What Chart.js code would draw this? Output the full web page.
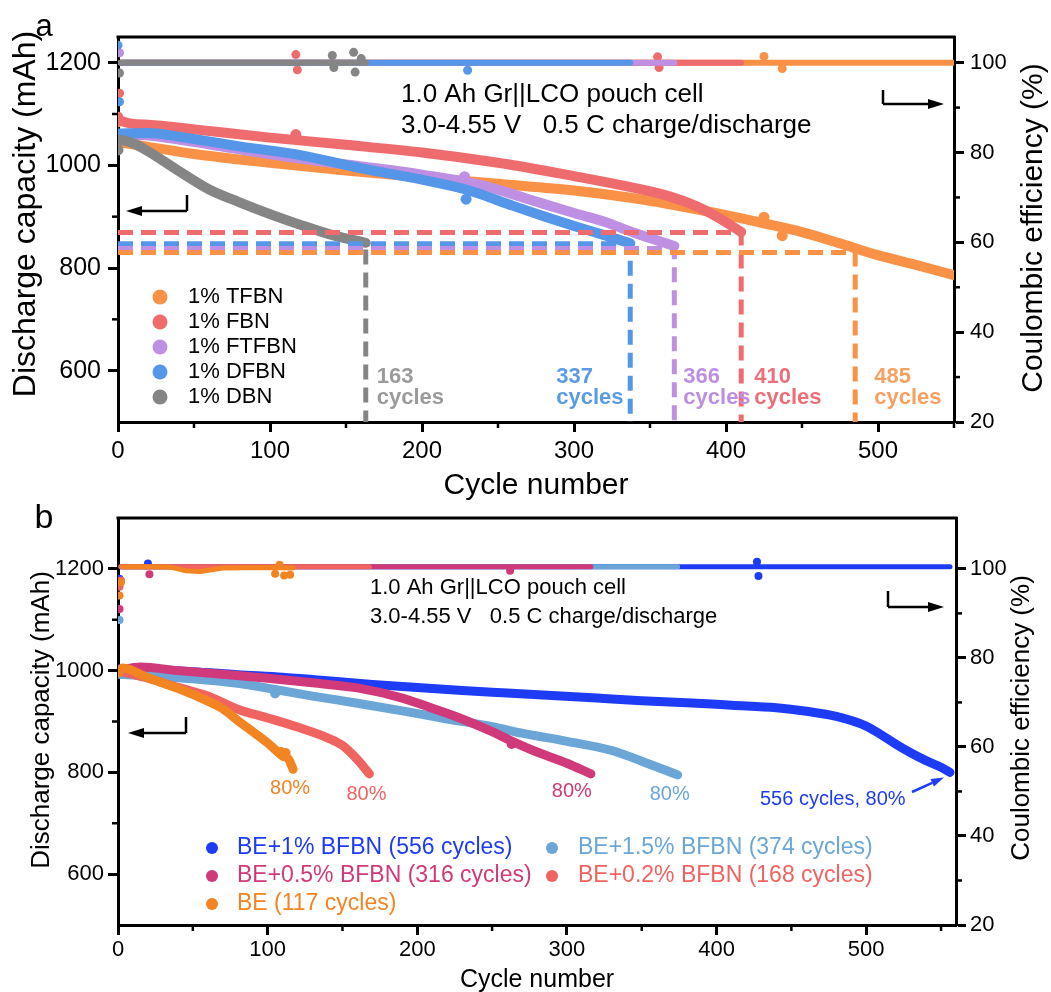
<!DOCTYPE html>
<html>
<head>
<meta charset="utf-8">
<script src="https://cdn.jsdelivr.net/npm/chart.js@4.4.0/dist/chart.umd.min.js"></script>
<style>
  html, body { margin: 0; padding: 0; background: #fff; }
  #wrap { position: relative; width: 1051px; height: 992px; overflow: hidden; }
  canvas { position: absolute; left: 0; }
  #chartA { top: 0; }
  #chartB { top: 500px; }
</style>
</head>
<body>
<div id="wrap">
  <canvas id="chartA" width="1051" height="500"></canvas>
  <canvas id="chartB" width="1051" height="492"></canvas>
</div>
<script>
// ---------- panel a data (1% additives) ----------
const aNames = ['1% TFBN', '1% FBN', '1% FTFBN', '1% DFBN', '1% DBN'];

// discharge capacity (mAh), main trend
const tfbnCycles  = [1, 20, 50, 100, 150, 200, 250, 300, 350, 400, 425, 450, 475, 500, 525, 550];
const tfbnCap     = [1045, 1036, 1022, 1005, 990, 977, 964, 951, 931, 903, 887, 870, 848, 825, 806, 786];
const fbnCycles   = [0, 1, 20, 50, 100, 150, 200, 250, 280, 300, 330, 360, 380, 395, 410];
const fbnCap      = [1095, 1088, 1079, 1070, 1054, 1040, 1025, 1005, 990, 979, 962, 942, 921, 898, 870];
const ftfbnCycles = [0, 20, 40, 80, 120, 160, 200, 240, 270, 300, 320, 340, 366];
const ftfbnCap    = [1060, 1058, 1050, 1031, 1013, 998, 982, 961, 934, 907, 890, 868, 843];
const dfbnCycles  = [0, 20, 40, 80, 120, 160, 200, 230, 260, 280, 300, 320, 337];
const dfbnCap     = [1062, 1063, 1056, 1037, 1020, 994, 972, 952, 921, 901, 882, 864, 848];
const dbnCycles   = [1, 10, 20, 40, 60, 80, 100, 120, 140, 163];
const dbnCap      = [1050, 1043, 1027, 989, 953, 928, 905, 884, 865, 849];

// discharge capacity, stray points off the trend
const tfbnCapOutCycles  = [0, 425, 437];
const tfbnCapOut        = [1085, 899, 863];
const fbnCapOutCycles   = [117];
const fbnCapOut         = [1060];
const ftfbnCapOutCycles = [228];
const ftfbnCapOut       = [978];
const dfbnCapOutCycles  = [229];
const dfbnCapOut        = [934];
const dbnCapOutCycles   = [0];
const dbnCapOut         = [1030];

// coulombic efficiency (%), main trend
const tfbnCeCycles  = [2, 550];
const tfbnCe        = [100, 100];
const fbnCeCycles   = [2, 410];
const fbnCe         = [100, 100];
const ftfbnCeCycles = [2, 366];
const ftfbnCe       = [100, 100];
const dfbnCeCycles  = [2, 337];
const dfbnCe        = [100, 100];
const dbnCeCycles   = [2, 163];
const dbnCe         = [100, 100];

// coulombic efficiency, stray points
const tfbnCeOutCycles  = [425, 437];
const tfbnCeOut        = [101.4, 98.7];
const fbnCeOutCycles   = [1, 117, 118, 355, 356];
const fbnCeOut         = [93.2, 101.8, 98.4, 101.3, 98.9];
const ftfbnCeOutCycles = [1];
const ftfbnCeOut       = [102.2];
const dfbnCeOutCycles  = [0, 1, 230];
const dfbnCeOut        = [103.9, 91.3, 98.3];
const dbnCeOutCycles   = [1, 141, 142, 155, 156, 160];
const dbnCeOut         = [97.7, 101.6, 98.9, 102.3, 97.9, 100.9];

// 80 % retention cut-offs (cycle, capacity) in order TFBN, FBN, FTFBN, DFBN, DBN
const cutCycles = [485, 410, 366, 337, 163];
const cutCaps   = [830, 869, 838, 847, 836];

// axis ticks
const aXTicks = [0, 100, 200, 300, 400, 500];
const aXMinor = [50, 150, 250, 350, 450, 550];
const capTicks = [600, 800, 1000, 1200];
const capMinor = [700, 900, 1100];
const ceTicks = [20, 40, 60, 80, 100];
const ceMinor = [30, 50, 70, 90];

// ---------- panel b data (BFBN contents) ----------
const bNames = ['BE+1% BFBN (556 cycles)', 'BE+1.5% BFBN (374 cycles)', 'BE+0.5% BFBN (316 cycles)',
                'BE+0.2% BFBN (168 cycles)', 'BE (117 cycles)'];

const be1Cycles  = [0, 20, 50, 80, 110, 140, 170, 200, 230, 260, 290, 320, 350, 380, 410, 440, 460, 480, 500, 510, 520, 530, 540, 550, 556];
const be1Cap     = [1003, 1002, 998, 992, 987, 980, 973, 967, 961, 956, 951, 946, 941, 937, 932, 927, 920, 910, 891, 874, 855, 838, 823, 810, 800];
const be15Cycles = [0, 20, 50, 80, 105, 130, 160, 190, 220, 250, 270, 300, 330, 350, 374];
const be15Cap    = [993, 990, 984, 975, 963, 950, 936, 921, 905, 890, 877, 861, 843, 822, 795];
const be05Cycles = [0, 15, 40, 70, 100, 130, 160, 190, 210, 230, 250, 262, 280, 300, 316];
const be05Cap    = [1000, 1007, 1000, 993, 985, 976, 966, 946, 926, 905, 880, 863, 840, 818, 797];
const be02Cycles = [0, 20, 40, 60, 80, 100, 120, 140, 150, 160, 168];
const be02Cap    = [1000, 985, 967, 950, 924, 907, 889, 868, 853, 825, 797];
const beCycles   = [0, 3, 20, 40, 60, 70, 80, 90, 100, 110, 114, 117];
const beCap      = [995, 1005, 986, 965, 940, 925, 902, 880, 858, 832, 826, 806];

const be1CapOutCycles  = [];
const be1CapOut        = [];
const be15CapOutCycles = [105];
const be15CapOut       = [955];
const be05CapOutCycles = [263];
const be05CapOut       = [856];
const be02CapOutCycles = [];
const be02CapOut       = [];
const beCapOutCycles   = [109, 112];
const beCapOut         = [840, 838];

const be1CeCycles  = [2, 556];
const be1Ce        = [100.5, 100.5];
const be15CeCycles = [2, 374];
const be15Ce       = [100.5, 100.5];
const be05CeCycles = [2, 316];
const be05Ce       = [100.5, 100.5];
const be02CeCycles = [2, 168];
const be02Ce       = [100.5, 100.5];
const beCeCycles   = [3, 35, 45, 55, 70, 100, 117];
const beCe         = [100.5, 100.4, 99.6, 99.4, 100.2, 100.3, 100.2];

const be1CeOutCycles  = [1, 20, 427, 428];
const be1CeOut        = [97.8, 101.2, 101.6, 98.4];
const be15CeOutCycles = [1];
const be15CeOut       = [88.5];
const be05CeOutCycles = [1, 21, 262];
const be05CeOut       = [91, 98.8, 99.6];
const be02CeOutCycles = [1, 2];
const be02CeOut       = [96, 97.4];
const beCeOutCycles   = [1, 2, 105, 108, 111, 115];
const beCeOut         = [94, 97, 98.9, 100.9, 98.5, 98.7];

const bXTicks = [0, 100, 200, 300, 400, 500];
const bXMinor = [50, 150, 250, 350, 450, 550];

// ---------- styles ----------
const FONT = '"Liberation Sans", Arial, Helvetica, sans-serif';
const aColors = ['#F99247', '#EE6C6E', '#BF8FE3', '#5596E8', '#858585'];
const aLabelColors = ['#F6A062', '#EB7078', '#BE8FE0', '#5C9BE3', '#9B9B9B'];
const bColors = ['#1E3CF5', '#6BA6D6', '#D0397A', '#EF6461', '#F28422'];

Chart.defaults.font.family = FONT;
Chart.defaults.color = '#000';

const pts = (xs, ys) => xs.map((x, i) => ({ x: x, y: ys[i] }));

function txt(ctx, s, x, y, size, color, align, bold, rot) {
  ctx.save();
  ctx.font = (bold ? 'bold ' : '') + size + 'px ' + FONT;
  ctx.fillStyle = color || '#000';
  ctx.textAlign = align || 'left';
  ctx.textBaseline = 'middle';
  ctx.translate(x, y);
  if (rot) ctx.rotate(rot);
  ctx.fillText(s, 0, 0);
  ctx.restore();
}

function arrowTo(ctx, x1, y1, x2, y2, color, lw, head) {
  const ang = Math.atan2(y2 - y1, x2 - x1);
  const bx = x2 - head * Math.cos(ang), by = y2 - head * Math.sin(ang);
  const w = head * 0.32;
  ctx.strokeStyle = color; ctx.fillStyle = color; ctx.lineWidth = lw;
  ctx.beginPath(); ctx.moveTo(x1, y1); ctx.lineTo(bx, by); ctx.stroke();
  ctx.beginPath();
  ctx.moveTo(x2, y2);
  ctx.lineTo(bx + w * Math.sin(ang), by - w * Math.cos(ang));
  ctx.lineTo(bx - w * Math.sin(ang), by + w * Math.cos(ang));
  ctx.closePath(); ctx.fill();
}

// L-shaped axis pointer
function pointer(ctx, xv, yTop, yBot, xTip) {
  ctx.strokeStyle = '#000'; ctx.lineWidth = 2.5;
  ctx.beginPath(); ctx.moveTo(xv, yTop); ctx.lineTo(xv, yBot); ctx.stroke();
  arrowTo(ctx, xv, yBot, xTip, yBot, '#000', 2.5, 16);
}

function minorTicks(ctx, scale, values, side) {
  ctx.strokeStyle = '#000'; ctx.lineWidth = 2.5;
  values.forEach(v => {
    const p = scale.getPixelForValue(v);
    ctx.beginPath();
    if (side === 'bottom') { ctx.moveTo(p, scale.top); ctx.lineTo(p, scale.top + 6); }
    if (side === 'left') { ctx.moveTo(scale.right, p); ctx.lineTo(scale.right - 6, p); }
    if (side === 'right') { ctx.moveTo(scale.left, p); ctx.lineTo(scale.left + 6, p); }
    ctx.stroke();
  });
}

function topFrame(ctx, a) {
  ctx.strokeStyle = '#000'; ctx.lineWidth = 3;
  ctx.beginPath(); ctx.moveTo(a.left - 1.5, a.top); ctx.lineTo(a.right + 1.5, a.top); ctx.stroke();
}

function axisOpts(min, max, majors, fontSize, pad, fitFn, pos) {
  return {
    type: 'linear', position: pos, min: min, max: max, afterFit: fitFn,
    afterBuildTicks: s => { s.ticks = majors.map(v => ({ value: v })); },
    ticks: { font: { size: fontSize }, color: '#000', padding: pad, maxRotation: 0, autoSkip: false,
             callback: v => String(v) },
    grid: { drawOnChartArea: false, tickLength: 10, tickWidth: 3, tickColor: '#000' },
    border: { color: '#000', width: 3 }
  };
}

// one series = trend line + stray points
function addSeries(sets, line, strays, color, width, axis, order, radius, smooth) {
  sets.push({
    data: line, yAxisID: axis, borderColor: color, borderWidth: width, pointRadius: 0,
    cubicInterpolationMode: smooth ? 'monotone' : 'default', tension: 0,
    borderCapStyle: 'round', borderJoinStyle: 'round', order: order
  });
  if (strays.length) sets.push({
    data: strays, yAxisID: axis, showLine: false, pointRadius: radius, pointBorderWidth: 0,
    pointBackgroundColor: color, pointBorderColor: color, order: order
  });
}

// ---------- panel a ----------
const aCapLines = [pts(tfbnCycles, tfbnCap), pts(fbnCycles, fbnCap), pts(ftfbnCycles, ftfbnCap), pts(dfbnCycles, dfbnCap), pts(dbnCycles, dbnCap)];
const aCapStrays = [pts(tfbnCapOutCycles, tfbnCapOut), pts(fbnCapOutCycles, fbnCapOut), pts(ftfbnCapOutCycles, ftfbnCapOut),
                    pts(dfbnCapOutCycles, dfbnCapOut), pts(dbnCapOutCycles, dbnCapOut)];
const aCeLines = [pts(tfbnCeCycles, tfbnCe), pts(fbnCeCycles, fbnCe), pts(ftfbnCeCycles, ftfbnCe), pts(dfbnCeCycles, dfbnCe), pts(dbnCeCycles, dbnCe)];
const aCeStrays = [pts(tfbnCeOutCycles, tfbnCeOut), pts(fbnCeOutCycles, fbnCeOut), pts(ftfbnCeOutCycles, ftfbnCeOut),
                   pts(dfbnCeOutCycles, dfbnCeOut), pts(dbnCeOutCycles, dbnCeOut)];
const aYMin = 500;

const aSets = [];
aCapLines.forEach((d, i) => addSeries(aSets, d, aCapStrays[i], aColors[i], 10, 'y', 10 - i, 5.5, true));
aCeLines.forEach((d, i) => addSeries(aSets, d, aCeStrays[i], aColors[i], 6, 'y2', 20 - i, 4.5, false));
cutCycles.forEach((c, i) => {
  const d = c === 163 ? [] : [{ x: 0, y: cutCaps[i] }];
  d.push({ x: c, y: cutCaps[i] }, { x: c, y: aYMin });
  aSets.push({
    data: d, yAxisID: 'y', borderColor: aColors[i], borderWidth: 5,
    borderDash: [15, 8], pointRadius: 0, tension: 0, order: 0
  });
});

const decorA = {
  id: 'decorA',
  afterDraw(chart) {
    const ctx = chart.ctx, a = chart.chartArea;
    const sx = chart.scales.x, sy = chart.scales.y, s2 = chart.scales.y2;
    ctx.save();
    topFrame(ctx, a);
    minorTicks(ctx, sx, aXMinor, 'bottom');
    minorTicks(ctx, sy, capMinor, 'left');
    minorTicks(ctx, s2, ceMinor, 'right');

    txt(ctx, 'a', 44, 27, 31, '#000', 'center');
    txt(ctx, 'Cycle number', (a.left + a.right) / 2, 486, 30, '#000', 'center');
    txt(ctx, 'Discharge capacity (mAh)', 26, 214, 32, '#000', 'center', false, -Math.PI / 2);
    txt(ctx, 'Coulombic efficiency (%)', 1034, 228, 30, '#000', 'center', false, -Math.PI / 2);

    txt(ctx, '1.0 Ah Gr||LCO pouch cell', 401, 95, 26, '#000', 'left');
    txt(ctx, '3.0-4.55 V   0.5 C charge/discharge', 401, 126, 26, '#000', 'left');

    pointer(ctx, 187, 195, 211, 126);
    pointer(ctx, 883, 90, 104, 944);

    // legend
    aNames.forEach((n, i) => {
      const y = 297 + 25 * i;
      ctx.fillStyle = aColors[i];
      ctx.beginPath(); ctx.arc(160, y, 7.5, 0, Math.PI * 2); ctx.fill();
      txt(ctx, n, 188, y, 22, '#000', 'left');
    });

    // cycle-life labels next to the dashed drops
    const dx = [19, 13, 9, -74, 11];
    cutCycles.forEach((c, i) => {
      const x = sx.getPixelForValue(c) + dx[i];
      txt(ctx, String(c), x, 377, 22, aLabelColors[i], 'left', true);
      txt(ctx, 'cycles', x, 398, 22, aLabelColors[i], 'left', true);
    });
    ctx.restore();
  }
};

new Chart(document.getElementById('chartA'), {
  type: 'line',
  data: { datasets: aSets },
  options: {
    responsive: false, animation: false, devicePixelRatio: 1, events: [],
    layout: { padding: { top: 37, left: 0, right: 0, bottom: 0 } },
    plugins: { legend: { display: false }, tooltip: { enabled: false } },
    scales: {
      x: axisOpts(0, 550, aXTicks, 24, 5, s => { s.height = 78; }, 'bottom'),
      y: axisOpts(aYMin, 1250, capTicks, 25, 7, s => { s.width = 118; }, 'left'),
      y2: axisOpts(20, 20 + 80 * 750 / 700, ceTicks, 22, 6, s => { s.width = 97; }, 'right')
    }
  },
  plugins: [decorA]
});

// ---------- panel b ----------
const bCapLines = [pts(be1Cycles, be1Cap), pts(be15Cycles, be15Cap), pts(be05Cycles, be05Cap), pts(be02Cycles, be02Cap), pts(beCycles, beCap)];
const bCapStrays = [pts(be1CapOutCycles, be1CapOut), pts(be15CapOutCycles, be15CapOut), pts(be05CapOutCycles, be05CapOut),
                    pts(be02CapOutCycles, be02CapOut), pts(beCapOutCycles, beCapOut)];
const bCeLines = [pts(be1CeCycles, be1Ce), pts(be15CeCycles, be15Ce), pts(be05CeCycles, be05Ce), pts(be02CeCycles, be02Ce), pts(beCeCycles, beCe)];
const bCeStrays = [pts(be1CeOutCycles, be1CeOut), pts(be15CeOutCycles, be15CeOut), pts(be05CeOutCycles, be05CeOut),
                   pts(be02CeOutCycles, be02CeOut), pts(beCeOutCycles, beCeOut)];

const bSets = [];
bCapLines.forEach((d, i) => addSeries(bSets, d, bCapStrays[i], bColors[i], 9, 'y', 10 + (4 - i), 5, true));
bCeLines.forEach((d, i) => addSeries(bSets, d, bCeStrays[i], bColors[i], 5, 'y2', 20 + (4 - i), 4, false));

const decorB = {
  id: 'decorB',
  afterDraw(chart) {
    const ctx = chart.ctx, a = chart.chartArea;
    const sx = chart.scales.x, sy = chart.scales.y, s2 = chart.scales.y2;
    ctx.save();
    topFrame(ctx, a);
    minorTicks(ctx, sx, bXMinor, 'bottom');
    minorTicks(ctx, sy, capMinor, 'left');
    minorTicks(ctx, s2, ceMinor, 'right');

    txt(ctx, 'b', 44, 19, 34, '#000', 'center');
    txt(ctx, 'Cycle number', (a.left + a.right) / 2, 480, 25, '#000', 'center');
    txt(ctx, 'Discharge capacity (mAh)', 42, 220, 26, '#000', 'center', false, -Math.PI / 2);
    txt(ctx, 'Coulombic efficiency (%)', 1022, 218, 26, '#000', 'center', false, -Math.PI / 2);

    txt(ctx, '1.0 Ah Gr||LCO pouch cell', 370, 88, 22, '#000', 'left');
    txt(ctx, '3.0-4.55 V   0.5 C charge/discharge', 370, 117, 22, '#000', 'left');

    pointer(ctx, 186, 217, 233, 128);
    pointer(ctx, 888, 91, 107, 944);

    // 80 % labels at the end of each curve
    const ends = [[beCycles, beCap, 4, -3, 19], [be02Cycles, be02Cap, 3, -3, 21],
                  [be05Cycles, be05Cap, 2, -19, 18], [be15Cycles, be15Cap, 1, -8, 20]];
    ends.forEach(([cs, vs, ci, ox, oy]) => {
      const n = cs.length - 1;
      txt(ctx, '80%', sx.getPixelForValue(cs[n]) + ox, sy.getPixelForValue(vs[n]) + oy, 20, bColors[ci], 'center');
    });
    const n1 = be1Cycles.length - 1;
    const tipX = sx.getPixelForValue(be1Cycles[n1]) - 6, tipY = sy.getPixelForValue(be1Cap[n1]) + 5;
    txt(ctx, '556 cycles, 80%', 760, 299, 20, bColors[0], 'left');
    arrowTo(ctx, 912, 292, tipX, tipY, bColors[0], 2.5, 13);

    // legend, two columns
    const cols = [[212, 237], [552, 578], [212, 237], [552, 578], [212, 237]];
    const rows = [348, 348, 376, 376, 404];
    bNames.forEach((n, i) => {
      ctx.fillStyle = bColors[i];
      ctx.beginPath(); ctx.arc(cols[i][0], rows[i], 6, 0, Math.PI * 2); ctx.fill();
      txt(ctx, n, cols[i][1], rows[i], 23, bColors[i], 'left');
    });
    ctx.restore();
  }
};

new Chart(document.getElementById('chartB'), {
  type: 'line',
  data: { datasets: bSets },
  options: {
    responsive: false, animation: false, devicePixelRatio: 1, events: [],
    layout: { padding: { top: 18, left: 0, right: 0, bottom: 0 } },
    plugins: { legend: { display: false }, tooltip: { enabled: false } },
    scales: {
      x: axisOpts(0, 560, bXTicks, 22, 2, s => { s.height = 67; }, 'bottom'),
      y: axisOpts(500, 1300, capTicks, 22, 4, s => { s.width = 118; }, 'left'),
      y2: axisOpts(20, 20 + 80 * 800 / 700, ceTicks, 22, 4, s => { s.width = 95; }, 'right')
    }
  },
  plugins: [decorB]
});
</script>
</body>
</html>
